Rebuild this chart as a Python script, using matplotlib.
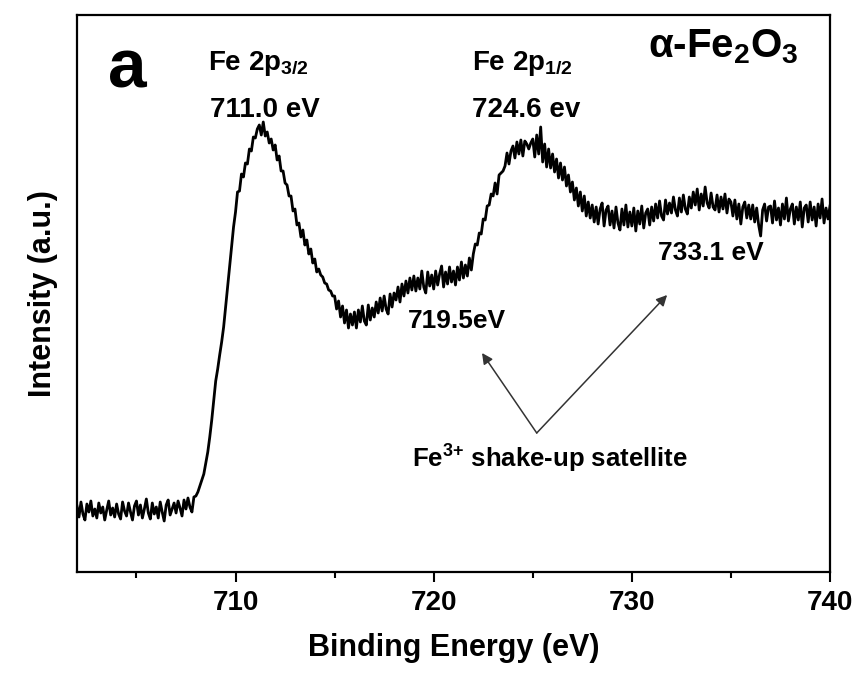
import matplotlib
matplotlib.use("Agg")
import numpy as np
import matplotlib.pyplot as plt

# Fe 2p XPS spectrum of alpha-Fe2O3 (0.1 eV steps from 702 eV)
ENERGY_START = 702.0
ENERGY_STEP = 0.1
INTENSITY = [
    66, 55, 70, 58, 52, 68, 60, 71, 56, 63,            # 702
    54, 69, 59, 65, 52, 62, 71, 57, 64, 55,            # 703
    68, 58, 53, 70, 61, 56, 69, 60, 52, 66,            # 704
    71, 57, 67, 54, 63, 73, 59, 53, 69, 58,            # 705
    65, 54, 70, 60, 51, 67, 72, 57, 63, 69,            # 706
    59, 71, 64, 56, 72, 63, 74, 65, 60, 75,            # 707
    76, 80, 86, 92, 98, 109, 120, 135, 152, 172,       # 708
    191, 203, 217, 230, 245, 265, 285, 305, 325, 345,  # 709
    360, 380, 381, 398, 395, 409, 408, 423, 421, 435,  # 710
    434, 443, 447, 437, 450, 436, 440, 429, 433, 422,  # 711
    427, 412, 416, 401, 401, 389, 387, 376, 376, 361,  # 712
    363, 347, 349, 335, 342, 327, 332, 318, 323, 309,  # 713
    313, 300, 303, 297, 295, 289, 288, 282, 281, 276,  # 714
    276, 263, 271, 255, 266, 249, 262, 244, 258, 247,  # 715
    260, 244, 262, 250, 266, 251, 247, 267, 252, 264,  # 716
    255, 270, 259, 274, 261, 276, 263, 258, 278, 265,  # 717
    279, 272, 285, 270, 288, 276, 291, 279, 294, 282,  # 718
    296, 281, 294, 283, 301, 285, 279, 300, 286, 297,  # 719
    283, 301, 287, 298, 306, 285, 300, 288, 305, 290,  # 720
    301, 287, 305, 292, 310, 294, 307, 296, 314, 302,  # 721
    318, 328, 327, 339, 338, 353, 352, 366, 367, 378,  # 722
    376, 389, 378, 397, 399, 401, 406, 419, 408, 421,  # 723
    426, 414, 430, 418, 432, 416, 431, 428, 423, 429,  # 724
    433, 415, 437, 418, 445, 410, 428, 405, 423, 404,  # 725
    418, 400, 413, 394, 409, 392, 405, 386, 397, 380,  # 726
    390, 372, 384, 366, 380, 361, 376, 356, 370, 354,  # 727
    367, 350, 365, 348, 363, 369, 346, 362, 366, 347,  # 728
    361, 344, 365, 349, 342, 363, 347, 367, 345, 360,  # 729
    346, 364, 341, 361, 348, 366, 344, 359, 363, 347,  # 730
    365, 351, 368, 354, 371, 356, 352, 372, 358, 369,  # 731
    359, 375, 362, 356, 374, 360, 377, 363, 358, 375,  # 732
    364, 380, 367, 383, 362, 378, 366, 385, 369, 364,  # 733
    379, 365, 362, 377, 360, 375, 363, 378, 359, 373,  # 734
    370, 356, 372, 353, 368, 348, 365, 370, 354, 367,  # 735
    353, 367, 350, 364, 347, 336, 362, 368, 351, 365,  # 736
    366, 349, 371, 352, 364, 347, 368, 353, 374, 351,  # 737
    363, 368, 348, 365, 352, 370, 345, 364, 367, 350,  # 738
    370, 352, 365, 346, 368, 354, 373, 349, 364, 353,  # 739
    366,                                               # 740
]
XTICKS = [710, 720, 730, 740]
XMINOR = [705, 715, 725, 735]

plt.rcParams["font.family"] = ["Liberation Sans", "DejaVu Sans"]
plt.rcParams["font.weight"] = "bold"
plt.rcParams["mathtext.fontset"] = "custom"
plt.rcParams["mathtext.rm"] = "Liberation Sans:bold"
plt.rcParams["mathtext.bf"] = "Liberation Sans:bold"
plt.rcParams["mathtext.default"] = "bf"

energy = ENERGY_START + ENERGY_STEP * np.arange(len(INTENSITY))

fig = plt.figure(figsize=(8.59, 6.79), dpi=100)
ax = fig.add_axes([77 / 859, 107 / 679, 753 / 859, 557 / 679])
ax.plot(energy, INTENSITY, color="black", linewidth=2.0)

ax.set_xlim(702, 740)
ax.set_ylim(0, 557)
ax.set_xticks(XTICKS)
ax.set_xticks(XMINOR, minor=True)
ax.set_yticks([])
ax.tick_params(axis="x", which="major", direction="out", length=7, width=1.5,
               labelsize=20, pad=6)
ax.tick_params(axis="x", which="minor", direction="out", length=4, width=1.5)
for lab in ax.get_xticklabels():
    lab.set_fontweight("bold")
for sp in ax.spines.values():
    sp.set_linewidth(1.6)

ax.set_xlabel("Binding Energy (eV)", fontsize=22, fontweight="bold", labelpad=12)
ax.set_ylabel("Intensity (a.u.)", fontsize=22, fontweight="bold", labelpad=14)

ax.text(703.55, 485, "a", fontsize=50, fontweight="bold", va="baseline")
ax.text(708.6, 502, r"Fe 2p$_{3/2}$", fontsize=20, fontweight="bold", va="baseline")
ax.text(708.7, 455, "711.0 eV", fontsize=20, fontweight="bold", va="baseline")
ax.text(721.95, 502, r"Fe 2p$_{1/2}$", fontsize=20, fontweight="bold", va="baseline")
ax.text(721.95, 455, "724.6 ev", fontsize=20, fontweight="bold", va="baseline")
ax.text(730.8, 515, r"α-Fe$_2$O$_3$", fontsize=29, fontweight="bold", va="baseline")
ax.text(718.7, 244, "719.5eV", fontsize=19, fontweight="bold", va="baseline")
ax.text(731.3, 312, "733.1 eV", fontsize=19, fontweight="bold", va="baseline")
ax.text(718.9, 104, r"Fe$^{3{+}}$ shake-up satellite", fontsize=18.5,
        fontweight="bold", va="baseline")

arrow = dict(arrowstyle="-|>", color="#333333", linewidth=1.1,
             mutation_scale=16, shrinkA=0, shrinkB=0)
ax.annotate("", xy=(722.44, 219), xytext=(725.2, 139), arrowprops=arrow)
ax.annotate("", xy=(731.78, 277), xytext=(725.2, 139), arrowprops=arrow)

fig.savefig("out.png", dpi=100, facecolor="white")
